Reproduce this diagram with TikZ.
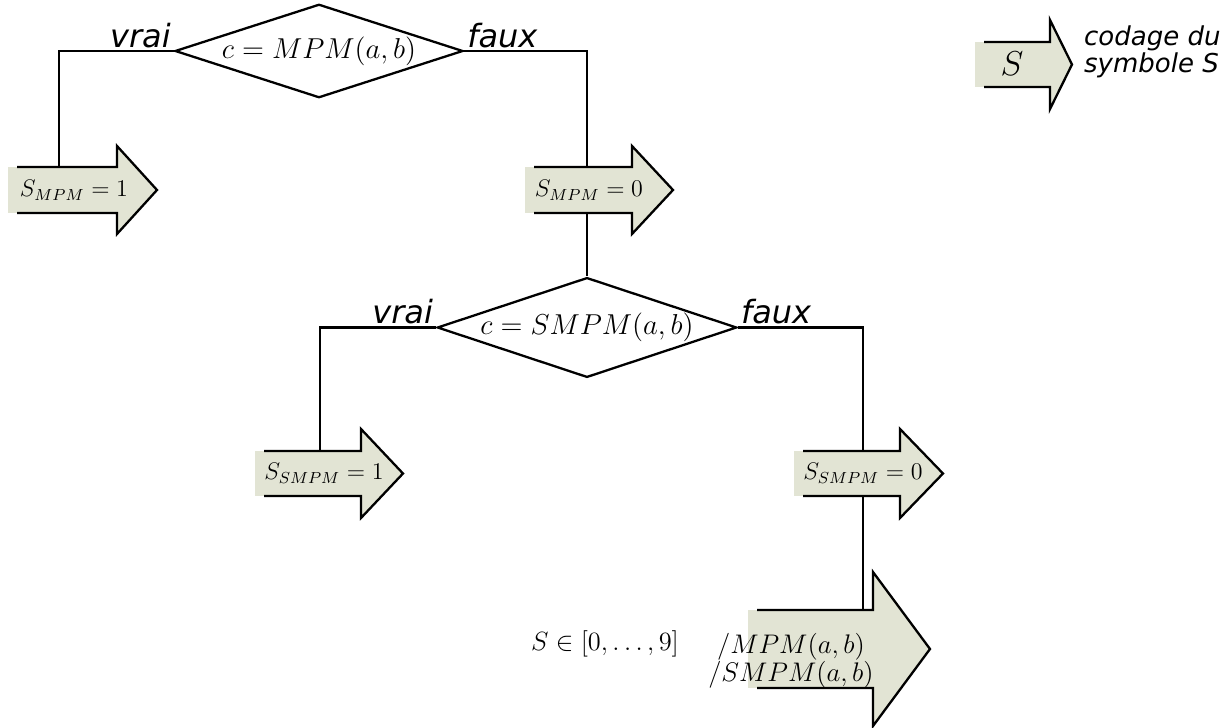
\documentclass[tikz,border=0pt]{standalone}
\usepackage{fontspec}
\usepackage{tikz}
\usetikzlibrary{positioning, shapes.geometric, calc}
\newfontfamily\branchfont{DejaVu Sans}
\definecolor{sand}{HTML}{E2E4D4}

% arrow: fill left, head base, tip, body top, body bottom, overhang (px)
\newcommand{\codarrow}[6]{%
  \fill[sand] (#1,#4) rectangle (#2,#5);
  \path[draw, fill=sand] (#1+9,#4) -- (#2,#4) -- (#2,#4-#6) -- (#3,{(#4+#5)/2})
    -- (#2,#5+#6) -- (#2,#5) -- (#1+9,#5);
}

\begin{document}
\begin{tikzpicture}[x=0.5pt, y=-0.5pt, line width=1.15pt,
  test/.style={diamond, draw, aspect=3, inner sep=0pt, minimum width=144pt, minimum height=46pt, font=\fontsize{14}{16}\selectfont},
  branch/.style={font=\branchfont\itshape\fontsize{16}{18}\selectfont, inner sep=1pt},
  symb/.style={minimum height=23pt, inner sep=0pt, font=\fontsize{12}{14}\selectfont}]
\useasboundingbox (0,0) rectangle (1222,728);

% arrows
\codarrow{8}{117}{157}{167}{213}{21}
\codarrow{525}{632}{673}{167}{213}{21}
\codarrow{255}{361}{403}{451}{496}{22}
\codarrow{794}{900}{943}{451}{496}{22}
\codarrow{748}{873}{930}{610}{688}{38}
\codarrow{975}{1050}{1072}{42}{87}{22}

% tests
\node[test] (d1) at (319,51) {$c=MPM(a,b)$};
\node[test] (d2) at (587,327.5) {$c=SMPM(a,b)$};
\node[branch, above left=0pt of d1.west] (v1) {vrai};
\node[branch, above right=0pt of d1.east] (f1) {faux};
\node[branch, above left=0pt of d2.west] (v2) {vrai};
\node[branch, above right=0pt of d2.east] (f2) {faux};

% symbols
\node[symb] (s1) at (74,190) {$S_{MPM}=1$};
\node[symb] (s2) at (589,190) {$S_{MPM}=0$};
\node[symb, minimum height=22.5pt] (s3) at (324,473.5) {$S_{SMPM}=1$};
\node[symb, minimum height=22.5pt] (s4) at (863,473.5) {$S_{SMPM}=0$};
\node[symb, minimum height=45.5pt, align=center, font=\fontsize{12}{12.5}\selectfont, scale=1.12, transform shape] (s5) at (791,661) {$/MPM(a,b)$\\$/SMPM(a,b)$};
\node[font=\fontsize{12}{14}\selectfont, scale=1.1, transform shape] (dom) at (605,644) {$S\in[0,\ldots,9]$};

% legend
\node[font=\fontsize{17}{20}\selectfont, inner sep=0pt, minimum height=22.5pt] (leg) at (1012,64) {$S$};
\node[anchor=west, align=left, inner sep=0pt, font=\branchfont\itshape\fontsize{13}{12}\selectfont] (legtxt) at (1083,52) {codage du\\symbole S};

\draw (d1.west) -| ([xshift=-7.5pt]s1.north);
\draw (d1.east) -| ([xshift=-1pt]s2.north);
\draw ([xshift=-1pt]s2.south) -- (d2.north);
\draw (d2.west) -| ([xshift=-2pt]s3.north);
\draw (d2.east) -| (s4.north);
\draw (s4.south) -- (s4.south |- s5.north);
\end{tikzpicture}
\end{document}
